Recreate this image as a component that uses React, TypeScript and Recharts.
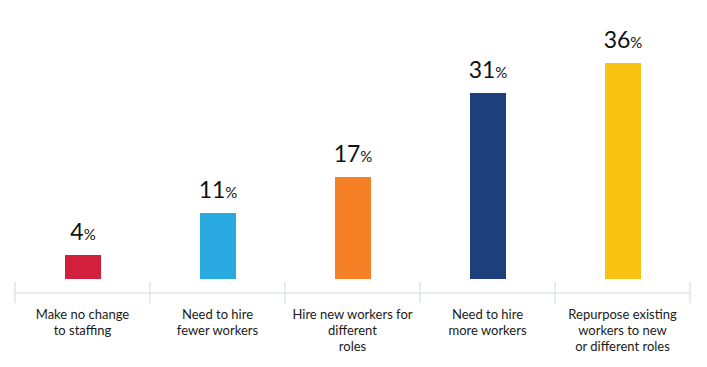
import { Bar, BarChart, Cell, LabelList, XAxis, YAxis } from 'recharts'

const categoryLines: string[][] = [
  ['Make no change', 'to staffing'],
  ['Need to hire', 'fewer workers'],
  ['Hire new workers for', 'different', 'roles'],
  ['Need to hire', 'more workers'],
  ['Repurpose existing', 'workers to new', 'or different roles'],
]
const categories = categoryLines.map((l) => l.join(' '))
const shares = [4, 11, 17, 31, 36]
const barColors = ['#d21f3c', '#29abe2', '#f58025', '#1d3f7b', '#f9c112']

const data = categories.map((name, i) => ({ name, value: shares[i] }))

const W = 707
const H = 367
const MARGIN = { top: 39, right: 17, bottom: 14, left: 15 }
const BAND = (W - MARGIN.left - MARGIN.right) / categories.length
const GRID = '#dfe4ec'
const FONT = 'Lato, "Open Sans", sans-serif'

function CategoryTick(props: any) {
  const { x, y, payload, index } = props
  const lines = categoryLines[index] ?? [String(payload.value)]
  const left = x - BAND / 2
  const right = x + BAND / 2
  return (
    <g>
      <line x1={left} x2={left} y1={y - 11} y2={y + 10} stroke={GRID} strokeWidth={1.5} />
      {index === categories.length - 1 && (
        <line x1={right} x2={right} y1={y - 11} y2={y + 10} stroke={GRID} strokeWidth={1.5} />
      )}
      <text x={x} y={y + 26} textAnchor="middle" fontFamily={FONT} fontSize={13} fill="#1a1a1a">
        {lines.map((l, i) => (
          <tspan key={i} x={x} dy={i === 0 ? 0 : 16}>
            {l}
          </tspan>
        ))}
      </text>
    </g>
  )
}

function ValueLabel(props: any) {
  const { x, y, width, value } = props
  return (
    <text x={x + width / 2} y={y - 15} textAnchor="middle" fontFamily={FONT} fill="#111">
      <tspan fontSize={23}>{value}</tspan>
      <tspan fontSize={15}>%</tspan>
    </text>
  )
}

export default function App() {
  return (
    <div style={{ position: 'absolute', left: 0, top: 0, background: '#fff' }}>
      <BarChart width={W} height={H} data={data} margin={MARGIN}>
        <YAxis hide domain={[-14 / 6, 40]} />
        <XAxis
          dataKey="name"
          interval={0}
          height={60}
          tickLine={false}
          tickSize={0}
          tickMargin={0}
          axisLine={{ stroke: GRID, strokeWidth: 1.5 }}
          tick={<CategoryTick />}
        />
        <Bar dataKey="value" barSize={36} isAnimationActive={false}>
          {data.map((d, i) => (
            <Cell key={d.name} fill={barColors[i]} />
          ))}
          <LabelList dataKey="value" content={<ValueLabel />} />
        </Bar>
      </BarChart>
    </div>
  )
}
